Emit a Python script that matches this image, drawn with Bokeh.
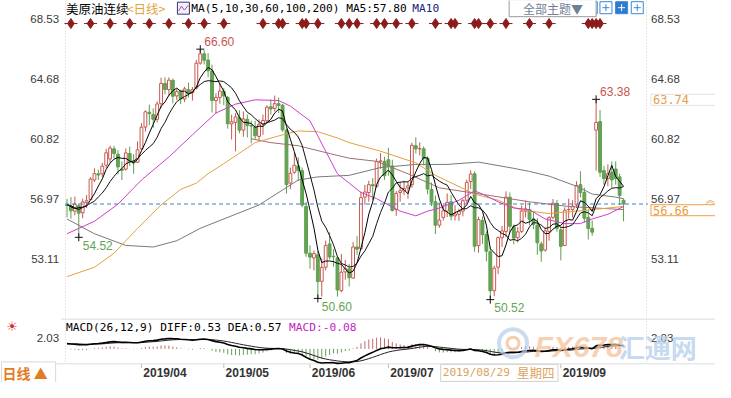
import numpy as np
import pandas as pd
from bokeh.plotting import figure
from bokeh.models import (ColumnDataSource, Range1d, LinearAxis, FixedTicker,
                          CustomJSTickFormatter, Label)
from bokeh.embed import file_html
from bokeh.resources import INLINE

# ---------------- data ----------------
holidays = ["2019-04-19", "2019-05-27", "2019-07-04", "2019-09-02"]
dates = [d for d in pd.bdate_range("2019-03-05", "2019-09-25")
         if d.strftime("%Y-%m-%d") not in holidays]

opens = [
    56.60, 56.50, 56.20, 56.55, 56.10, 56.75, 56.95, 58.20, 58.60, 58.60, 59.15, 59.55, 60.20, 59.85, 58.90, 58.90, 59.90, 59.40, 59.35,
    60.20, 61.60, 62.55, 62.40, 62.10, 63.10, 64.40, 64.00, 64.60, 63.60, 63.90, 63.40, 64.00, 63.80, 64.10, 65.70, 66.30, 65.90, 65.20, 63.30, 63.50,
    63.90, 63.50, 61.80, 61.90, 62.20, 61.40, 62.10, 61.70, 61.60, 61.00, 61.80, 62.00, 62.90, 62.80, 63.10, 63.00, 61.40, 58.00, 58.70, 59.10, 58.80, 56.50,
    53.50, 53.20, 53.40, 51.70, 52.60, 54.10, 53.30, 53.20, 51.10, 52.30, 52.50, 51.90, 53.90, 53.80, 57.10, 57.40, 57.90, 57.80, 59.40, 59.40,
    59.50, 59.10, 56.30, 57.40, 57.50, 57.70, 57.90, 60.40, 60.20, 60.20, 59.60, 57.60, 56.80, 55.30, 55.80, 56.20, 56.80, 55.90, 56.00, 56.20, 56.90, 58.10,
    58.60, 54.00, 55.60, 54.70, 53.60, 51.10, 52.60, 54.50, 54.90, 57.10, 55.20, 54.50, 54.90, 56.20, 56.30, 55.70, 55.30, 54.10, 53.70, 54.90, 55.80, 56.70,
    55.00, 54.00, 56.30, 56.30, 56.60, 57.90, 57.40, 55.80, 55.10, 61.40, 61.95, 58.80, 58.30, 58.70, 58.90, 58.40, 56.90]
highs = [
    56.98, 57.10, 57.13, 56.70, 57.00, 57.24, 58.38, 58.95, 58.86, 59.30, 60.20, 60.40, 60.39, 60.11, 59.40, 60.23, 60.35, 59.86, 60.68,
    61.85, 62.67, 63.04, 62.80, 63.25, 64.77, 64.79, 64.79, 64.71, 64.07, 64.00, 64.19, 64.45, 64.17, 65.92, 66.60, 66.53, 66.35, 65.60, 63.76, 64.40,
    64.10, 63.60, 62.40, 62.50, 62.68, 62.60, 62.40, 62.00, 62.00, 62.10, 62.40, 63.00, 63.37, 63.62, 63.50, 63.08, 61.50, 58.99, 59.95, 59.66, 59.00, 56.80,
    54.00, 53.68, 53.67, 53.17, 54.31, 54.84, 53.76, 53.30, 53.45, 53.07, 52.82, 54.23, 54.60, 57.45, 57.88, 58.16, 58.33, 59.58, 59.93, 59.70,
    60.27, 59.50, 57.49, 58.07, 58.15, 58.08, 60.60, 60.94, 60.62, 60.36, 59.72, 58.04, 57.20, 56.76, 56.61, 57.34, 57.22, 56.58, 56.36, 56.99, 58.22, 58.82,
    58.76, 55.85, 55.86, 54.90, 53.88, 52.70, 54.59, 55.24, 57.47, 57.40, 55.35, 55.18, 56.57, 56.88, 56.76, 56.20, 55.75, 54.25, 55.16, 55.87, 56.98, 56.92,
    55.20, 56.45, 57.00, 56.90, 58.12, 58.76, 57.70, 56.32, 55.60, 63.38, 62.70, 59.10, 59.20, 59.40, 59.40, 58.60, 57.00]
lows = [
    55.80, 55.72, 55.94, 54.52, 55.74, 56.40, 56.90, 58.07, 58.20, 58.40, 58.95, 59.30, 59.60, 58.55, 58.20, 58.80, 59.10, 58.60, 59.30,
    60.14, 61.30, 61.72, 61.55, 61.90, 62.80, 63.70, 63.60, 63.12, 63.34, 63.08, 63.20, 63.50, 63.30, 64.00, 65.60, 65.62, 64.80, 62.54, 62.46, 63.10,
    63.00, 61.50, 60.80, 60.04, 61.20, 60.97, 60.93, 60.55, 60.84, 60.75, 61.10, 61.90, 62.40, 62.60, 62.50, 61.30, 57.33, 57.62, 58.60, 58.14, 56.44, 53.27,
    52.51, 52.40, 50.60, 50.72, 52.40, 53.10, 52.64, 50.72, 51.00, 51.80, 51.36, 51.87, 53.40, 53.70, 56.60, 56.80, 56.92, 57.70, 58.93, 58.21,
    58.48, 56.18, 55.90, 56.81, 57.23, 57.00, 57.70, 59.90, 59.78, 59.14, 57.28, 56.53, 54.73, 55.13, 55.60, 55.81, 55.61, 55.60, 55.58, 55.87, 56.70, 57.63,
    53.59, 53.53, 54.10, 52.98, 50.52, 50.74, 52.16, 53.90, 54.53, 54.80, 54.08, 54.20, 54.80, 55.80, 55.30, 55.05, 53.40, 52.95, 53.60, 54.30, 55.68, 54.88,
    53.04, 53.95, 55.72, 55.80, 56.40, 57.10, 55.47, 54.38, 54.62, 58.80, 58.40, 57.90, 57.80, 57.70, 57.90, 56.60, 55.55]
closes = [
    56.56, 56.22, 56.66, 56.07, 56.79, 56.87, 58.26, 58.61, 58.52, 59.09, 59.95, 60.25, 59.90, 59.04, 58.82, 59.94, 59.41, 59.30, 60.14,
    61.59, 62.58, 62.46, 62.10, 63.08, 64.40, 64.01, 64.61, 63.58, 63.89, 63.40, 64.05, 63.76, 64.00, 65.70, 66.30, 65.89, 65.21, 63.30, 63.50, 63.91,
    63.60, 61.81, 61.94, 62.25, 61.40, 62.12, 61.70, 61.66, 61.04, 61.78, 62.02, 62.87, 62.76, 63.10, 62.99, 61.42, 57.91, 58.63, 59.14, 58.81, 56.59, 53.50,
    53.25, 53.48, 51.68, 52.59, 53.99, 53.26, 53.27, 51.14, 52.28, 52.51, 51.93, 53.90, 53.76, 57.07, 57.43, 57.90, 57.83, 59.38, 59.43, 58.47,
    59.09, 56.25, 57.34, 57.51, 57.66, 57.83, 60.43, 60.20, 60.21, 59.58, 57.62, 56.78, 55.30, 55.63, 56.22, 56.77, 55.88, 56.02, 56.20, 56.87, 58.05, 58.58,
    53.95, 55.66, 54.69, 53.63, 51.09, 52.54, 54.50, 54.93, 57.10, 55.23, 54.47, 54.87, 56.21, 56.34, 55.68, 55.35, 54.17, 53.64, 54.93, 55.78, 56.71, 55.10,
    53.94, 56.26, 56.30, 56.52, 57.85, 57.40, 55.75, 55.09, 54.85, 61.90, 58.70, 58.30, 58.60, 58.20, 58.30, 57.20, 56.66]
prior_closes = [56.92, 57.96, 57.26, 55.48, 55.50, 56.94, 57.22, 55.80, 56.59]  # before first bar (for MA5/MA10)

# longer moving averages (bar index, value)
ma30_at = [0, 7, 13, 19, 26, 32, 38, 43, 48, 54, 57, 62, 66, 69, 72, 75, 79, 85, 89, 92, 95, 100, 104, 106, 110, 114, 118, 122, 127, 131, 134, 138, 142]
ma30_val = [54.75, 55.55, 56.65, 58.2, 59.68, 61.1, 62.5, 63.07, 63.35, 63.3, 62.94, 62.0, 60.05, 58.6, 58.0, 57.4, 57.0, 56.2, 55.9, 56.2, 56.4, 56.9, 57.5, 57.3, 56.8, 56.4, 56.3, 55.7, 55.4, 55.4, 55.7, 56.0, 56.5]
ma60_at = [0, 7, 12, 18, 24, 29, 33, 36, 40, 48, 55, 59, 64, 69, 72, 80, 89, 94, 99, 104, 110, 115, 118, 123, 130, 136, 142]
ma60_val = [52.0, 52.6, 53.5, 55.1, 56.6, 57.6, 58.0, 58.6, 59.25, 60.6, 61.1, 61.35, 61.3, 60.9, 60.6, 60.05, 59.3, 58.5, 57.9, 57.3, 56.9, 56.35, 56.2, 56.05, 56.2, 56.35, 56.5]
ma100_at = [0, 7, 15, 22, 28, 34, 49, 59, 64, 72, 80, 89, 97, 105, 114, 118, 123, 130, 134, 140, 142]
ma100_val = [55.7, 54.75, 54.0, 53.9, 54.3, 55.1, 56.6, 58.2, 58.4, 58.5, 59.0, 59.2, 59.2, 59.35, 58.95, 58.75, 58.45, 57.8, 57.3, 57.1, 57.0]
ma200_at = [47, 52, 59, 67, 72, 79, 87, 95, 108, 118, 128, 142]
ma200_val = [60.85, 60.6, 60.4, 59.9, 59.6, 59.4, 58.6, 57.7, 57.2, 56.8, 56.5, 56.3]

# MACD(26,12,9) starting state
ema12_start, ema26_start, dea_start = 56.2, 55.2, 0.95

price_ticks = [68.53, 64.68, 60.82, 56.97, 53.11]
macd_tick = 2.03
month_labels = ["2019/04", "2019/05", "2019/06", "2019/07", "2019/09"]
marker_bars = [1, 6, 11, 16, 21, 26, 31, 35, 40, 50, 54, 55, 60, 61, 64, 70, 72, 74, 79, 81, 84, 88,
               94, 98, 99, 104, 105, 108, 112, 118, 123, 133, 134, 135, 136]
ext_bars = [3, 34, 64, 108, 135]
ext_kind = ["low", "high", "low", "low", "high"]

n = len(closes)
for arr in (opens, highs, lows):
    assert len(arr) == n, len(arr)
assert len(dates) == n

# ---------------- derived ----------------
idx = np.arange(n)
o = np.array(opens); h = np.array(highs); l = np.array(lows); c = np.array(closes)
allc = pd.Series(prior_closes + closes)
ma5 = allc.rolling(5).mean().to_numpy()[len(prior_closes):]
ma10 = allc.rolling(10).mean().to_numpy()[len(prior_closes):]

e12, e26, dea = ema12_start, ema26_start, dea_start
diff_l, dea_l = [], []
for cc in closes:
    e12 += (cc - e12) * 2 / 13
    e26 += (cc - e26) * 2 / 27
    d = e12 - e26
    dea += (d - dea) * 2 / 10
    diff_l.append(d); dea_l.append(dea)
diff_a = np.array(diff_l); dea_a = np.array(dea_l)
hist = 2 * (diff_a - dea_a)

# ---------------- layout helpers (reference pixel -> data) ----------------
X0, DX = 68.0, 4.007
PY, PP, PS = 50.7, 66.6, 16.23
MZ, MS = 363.0, 5.8
def ix(xr): return (xr - X0) / DX
def py(yr): return PP - (yr - PY) / PS
def my(yr): return (MZ - yr) / MS

p = figure(width=715, height=382, output_backend="svg", toolbar_location=None,
           x_range=Range1d(ix(0), ix(731)), y_range=Range1d(py(398), py(0)),
           min_border=0, min_border_left=0, min_border_right=0,
           min_border_top=0, min_border_bottom=0,
           x_axis_location=None, y_axis_location=None)
p.extra_y_ranges = {"macd": Range1d(my(398), my(0))}
p.grid.visible = False
p.outline_line_color = None
p.background_fill_color = "white"
p.border_fill_color = "white"

def style_axis(ax):
    ax.axis_line_color = None
    ax.major_tick_line_color = None
    ax.minor_tick_line_color = None
    ax.major_tick_in = 0
    ax.major_tick_out = 0
    ax.minor_tick_in = 0
    ax.minor_tick_out = 0

# axes (placed at fixed locations at the pane edges)
macd_as_price = py(MZ - macd_tick * MS)
fmt = CustomJSTickFormatter(args=dict(m=macd_as_price, lab=f"{macd_tick:.2f}"),
                            code="return Math.abs(tick - m) < 1e-3 ? lab : tick.toFixed(2);")
for side, loc in (("left", ix(66)), ("right", ix(661))):
    ax = LinearAxis(ticker=FixedTicker(ticks=price_ticks + [macd_as_price]), formatter=fmt,
                    fixed_location=loc)
    style_axis(ax)
    ax.major_label_text_font = "Liberation Sans"
    ax.major_label_text_font_size = "11.5px"
    ax.major_label_text_color = "#3a3a3a"
    ax.major_label_standoff = 6 if side == "left" else 4
    p.add_layout(ax, side)

month_first = []
for k in range(1, n):
    if dates[k].month != dates[k - 1].month and dates[k].month != 8:
        month_first.append(k)
label_pos = [m + 6 for m in month_first]
xax = LinearAxis(ticker=FixedTicker(ticks=label_pos), fixed_location=py(378),
                 major_label_overrides={lp: lab for lp, lab in zip(label_pos, month_labels)})
style_axis(xax)
xax.major_label_text_font = "Liberation Sans"
xax.major_label_text_font_style = "bold"
xax.major_label_text_font_size = "12px"
xax.major_label_text_color = "#333333"
xax.major_label_standoff = 3
p.add_layout(xax, "below")

# pane separators / frame edges
p.segment(x0=[ix(66.5), ix(660.5)], y0=[py(0)] * 2, x1=[ix(66.5), ix(660.5)], y1=[py(378)] * 2,
          line_color="#cfcfcf", line_dash="1 2", line_width=1)
p.segment(x0=[ix(62), ix(57)], y0=[py(332), py(378.5)], x1=[ix(731), ix(731)], y1=[py(332), py(378.5)],
          line_color="#dcdcdc", line_width=1)
# tick marks at month starts
p.segment(x0=month_first, y0=[py(379)] * len(month_first), x1=month_first, y1=[py(383)] * len(month_first),
          line_color="#bdbdbd", line_width=1)

# candles
up = c >= o
src = ColumnDataSource(dict(i=idx, h=h, l=l, top=np.maximum(o, c), bot=np.minimum(o, c),
                            line=np.where(up, "#c7594f", "#5e9e4f"),
                            fill=np.where(up, "#ffffff", "#64a455")))
p.segment(x0="i", y0="l", x1="i", y1="h", source=src, line_color="line", line_width=1)
p.vbar(x="i", width=0.72, top="top", bottom="bot", source=src,
       fill_color="fill", line_color="line", line_width=1)

# moving averages
p.line(ma200_at, ma200_val, line_color="#9e6f6f", line_width=1)
p.line(ma100_at, ma100_val, line_color="#7a7a7a", line_width=1)
p.line(ma60_at, ma60_val, line_color="#e4a040", line_width=1)
p.line(ma30_at, ma30_val, line_color="#cc3fcc", line_width=1)
p.line(idx, ma10, line_color="#111111", line_width=1)
p.line(idx, ma5, line_color="#000000", line_width=1)

# last price line
p.segment(x0=[ix(66)], y0=[closes[-1]], x1=[ix(662)], y1=[closes[-1]],
          line_color="#3d7fc6", line_dash="4 3", line_width=1)

# event diamonds
dy = py(24)
p.scatter(marker_bars, [dy] * len(marker_bars), marker="dash", size=13,
          line_color="#8c1c1c", line_width=1)
p.scatter(marker_bars, [dy] * len(marker_bars), marker="diamond", size=10,
          fill_color="#8c1c1c", line_color="#8c1c1c")

# extremes
ev = [highs[b] if k == "high" else lows[b] for b, k in zip(ext_bars, ext_kind)]
p.scatter(ext_bars, ev, marker="cross", size=8, line_color="#111111", line_width=1)
for b, k, v in zip(ext_bars, ext_kind, ev):
    p.add_layout(Label(x=b, y=v, x_offset=4, y_offset=8 if k == "high" else -8,
                       text=f"{v:.2f}", text_font="Liberation Sans", text_font_size="12px",
                       text_color="#c9544d" if k == "high" else "#64a455",
                       text_baseline="middle", text_align="left"))

# MACD pane
macd_src = ColumnDataSource(dict(i=idx, z=np.zeros(n), hv=hist,
                                 col=np.where(hist >= 0, "#c46a6a", "#6a9e5c")))
p.segment(x0="i", y0="z", x1="i", y1="hv", source=macd_src, line_color="col",
          line_width=1, y_range_name="macd")
p.line(idx, dea_a, line_color="#222222", line_width=1, y_range_name="macd")
p.line(idx, diff_a, line_color="#000000", line_width=1.6, y_range_name="macd")

def lab(xr, yr, text, font="Liberation Sans", size="12px", color="#000", **kw):
    L = Label(x=ix(xr), y=py(yr), text=text, text_font=font, text_font_size=size,
              text_color=color, text_baseline="middle", text_align="left", **kw)
    p.add_layout(L)
    return L

CJK = "Noto Sans CJK SC"
MONO = "DejaVu Sans Mono"
# title line
lab(67, 8, "美原油连续", font=CJK, size="12.5px")
lab(129, 8, "<日线>", font=CJK, size="12.5px", color="#e3a43a")
p.scatter([ix(187)], [py(8)], marker="square", size=12, fill_color="#eef2ff",
          line_color="#35356a", line_width=1)
p.line([ix(182), ix(185), ix(188), ix(192)], [py(11), py(6), py(10), py(5)],
       line_color="#c0409a", line_width=1)
lab(195, 8.5, "MA(5,10,30,60,100,200) MA5:57.80", font=MONO, size="11.2px", color="#000")
lab(421, 8.5, "MA10", font=MONO, size="11.2px", color="#1a237e")
lab(520, 8, "全部主题▼", font=CJK, size="12px", color="#6f7f95",
    border_line_color="#9a9a9a", background_fill_color="white",
    padding=dict(left=14, right=13, top=0, bottom=0))
icon_x = [604, 619, 635, 651]
p.scatter([ix(v) for v in icon_x], [py(7.5)] * 4, marker="square", size=12,
          fill_color=["#ffffff", "#ffffff", "#2f7ad0", "#ffffff"],
          line_color="#3d86d6", line_width=1)
p.scatter([ix(v) for v in icon_x], [py(7.5)] * 4, marker="cross", size=7,
          line_color=["#3d86d6", "#3d86d6", "#ffffff", "#3d86d6"], line_width=1)

# right side price boxes
lab(665, 103.5, "63.74", font=MONO, size="12px", color="#e4a048",
    border_line_color="#e2e2e2", background_fill_color="white",
    padding=dict(left=2, right=27, top=1, bottom=1))
lab(665, 218.5, "56.66", font=MONO, size="12px", color="#e4a048",
    border_line_color="#efa044", background_fill_color="white",
    padding=dict(left=2, right=27, top=1, bottom=1))
lab(721, 207, "︽", font=CJK, size="9px", color="#e4902a")

# MACD text
lab(67, 341, "MACD(26,12,9) DIFF:0.53 DEA:0.57", font=MONO, size="11.2px", color="#000")
lab(295, 341, "MACD:-0.08", font=MONO, size="11.2px", color="#c21fc2")
lab(6, 340, "☀", font="DejaVu Sans", size="13px", color="#d02a2a")

# watermark
p.scatter([ix(524)], [py(357)], marker="circle", size=28, fill_color=None,
          line_color="#b5cdea", line_width=4, alpha=0.7)
p.scatter([ix(524)], [py(357)], marker="circle", size=12, fill_color=None,
          line_color="#f3b98a", line_width=3, alpha=0.7)
lab(546, 360, "FX678", font="Liberation Sans", size="30px", color="#f4c39a",
    text_font_style="bold italic", text_alpha=0.75)
lab(632, 360, "汇通网", font=CJK, size="26px", color="#b9d0ec",
    text_font_style="bold", text_alpha=0.8)

# bottom row
lab(1, 388, "日线 ▲", font=CJK, size="14px", color="#e37b25", text_font_style="bold",
    border_line_color="#d8d8d8", background_fill_color="white",
    padding=dict(left=1, right=8, top=1, bottom=1))
lab(450, 388, "2019/08/29", font=MONO, size="11.2px", color="#dca35f",
    border_line_color="#d0d0d0", background_fill_color="white",
    padding=dict(left=2, right=48, top=2, bottom=2))
lab(528, 388, "星期四", font=CJK, size="12.5px", color="#dca35f")

open("out.html", "w").write(file_html(p, INLINE))
